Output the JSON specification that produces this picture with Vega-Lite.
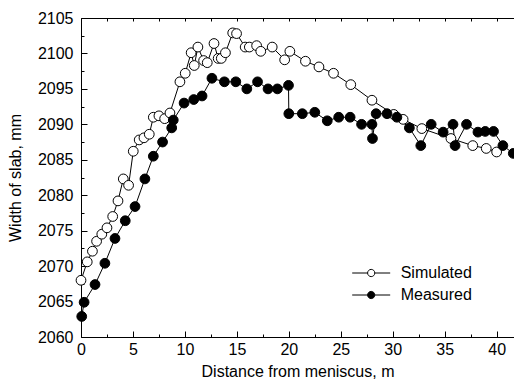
{
  "$schema": "https://vega.github.io/schema/vega-lite/v6.json",
  "autosize": "none",
  "width": 433,
  "height": 319,
  "padding": {"left": 81, "top": 18, "right": 0, "bottom": 44},
  "background": "white",
  "config": {
    "view": {"stroke": null},
    "font": "Liberation Sans",
    "axis": {
      "domainColor": "black", "domainWidth": 1, "tickColor": "black", "tickWidth": 1,
      "labelColor": "black", "titleColor": "black", "labelFont": "Liberation Sans", "titleFont": "Liberation Sans",
      "labelFontSize": 16, "titleFontSize": 16, "titleFontWeight": "normal", "grid": false
    }
  },
  "data": {
    "values": [
      {"s": "Simulated", "d": 0.0, "w": 2068.0},
      {"s": "Simulated", "d": 0.6, "w": 2070.6},
      {"s": "Simulated", "d": 1.1, "w": 2072.1},
      {"s": "Simulated", "d": 1.5, "w": 2073.5},
      {"s": "Simulated", "d": 2.0, "w": 2074.5},
      {"s": "Simulated", "d": 2.5, "w": 2075.4},
      {"s": "Simulated", "d": 3.05, "w": 2077.0},
      {"s": "Simulated", "d": 3.56, "w": 2079.2},
      {"s": "Simulated", "d": 4.07, "w": 2082.3},
      {"s": "Simulated", "d": 4.58, "w": 2081.4},
      {"s": "Simulated", "d": 5.03, "w": 2086.2},
      {"s": "Simulated", "d": 5.6, "w": 2087.8},
      {"s": "Simulated", "d": 6.06, "w": 2088.1},
      {"s": "Simulated", "d": 6.57, "w": 2088.6},
      {"s": "Simulated", "d": 6.96, "w": 2091.0},
      {"s": "Simulated", "d": 7.5, "w": 2091.2},
      {"s": "Simulated", "d": 8.05, "w": 2090.8},
      {"s": "Simulated", "d": 8.56, "w": 2091.6},
      {"s": "Simulated", "d": 9.52, "w": 2096.0},
      {"s": "Simulated", "d": 10.03, "w": 2097.2},
      {"s": "Simulated", "d": 10.6, "w": 2100.1},
      {"s": "Simulated", "d": 10.9, "w": 2098.3},
      {"s": "Simulated", "d": 11.25, "w": 2100.9},
      {"s": "Simulated", "d": 11.8, "w": 2099.0},
      {"s": "Simulated", "d": 12.15, "w": 2098.7},
      {"s": "Simulated", "d": 12.8, "w": 2101.4},
      {"s": "Simulated", "d": 13.2, "w": 2099.3},
      {"s": "Simulated", "d": 13.5, "w": 2099.3},
      {"s": "Simulated", "d": 13.9, "w": 2100.1},
      {"s": "Simulated", "d": 14.6, "w": 2102.9},
      {"s": "Simulated", "d": 14.97, "w": 2102.8},
      {"s": "Simulated", "d": 15.8, "w": 2100.9},
      {"s": "Simulated", "d": 16.2, "w": 2100.9},
      {"s": "Simulated", "d": 16.9, "w": 2101.1},
      {"s": "Simulated", "d": 17.3, "w": 2100.3},
      {"s": "Simulated", "d": 18.4, "w": 2100.9},
      {"s": "Simulated", "d": 19.6, "w": 2099.1},
      {"s": "Simulated", "d": 20.1, "w": 2100.3},
      {"s": "Simulated", "d": 21.6, "w": 2098.9},
      {"s": "Simulated", "d": 22.9, "w": 2098.1},
      {"s": "Simulated", "d": 24.3, "w": 2097.2},
      {"s": "Simulated", "d": 25.96, "w": 2095.6},
      {"s": "Simulated", "d": 28.0, "w": 2093.4},
      {"s": "Simulated", "d": 30.1, "w": 2091.4},
      {"s": "Simulated", "d": 31.0, "w": 2090.7},
      {"s": "Simulated", "d": 32.8, "w": 2089.4},
      {"s": "Simulated", "d": 35.6, "w": 2088.0},
      {"s": "Simulated", "d": 37.7, "w": 2087.0},
      {"s": "Simulated", "d": 39.0, "w": 2086.6},
      {"s": "Simulated", "d": 40.0, "w": 2086.1},
      {"s": "Measured", "d": 0.07, "w": 2062.9},
      {"s": "Measured", "d": 0.3, "w": 2064.9},
      {"s": "Measured", "d": 1.35, "w": 2067.4},
      {"s": "Measured", "d": 2.3, "w": 2070.4},
      {"s": "Measured", "d": 3.27, "w": 2073.9},
      {"s": "Measured", "d": 4.26, "w": 2076.4},
      {"s": "Measured", "d": 5.2, "w": 2078.4},
      {"s": "Measured", "d": 6.15, "w": 2082.3},
      {"s": "Measured", "d": 6.96, "w": 2085.5},
      {"s": "Measured", "d": 7.85, "w": 2087.5},
      {"s": "Measured", "d": 8.73, "w": 2089.5},
      {"s": "Measured", "d": 8.88, "w": 2090.6},
      {"s": "Measured", "d": 9.92, "w": 2093.0},
      {"s": "Measured", "d": 10.85, "w": 2093.5},
      {"s": "Measured", "d": 11.65, "w": 2094.0},
      {"s": "Measured", "d": 12.6, "w": 2096.5},
      {"s": "Measured", "d": 13.8, "w": 2096.0},
      {"s": "Measured", "d": 14.9, "w": 2096.0},
      {"s": "Measured", "d": 15.96, "w": 2095.0},
      {"s": "Measured", "d": 16.99, "w": 2096.0},
      {"s": "Measured", "d": 18.0, "w": 2095.0},
      {"s": "Measured", "d": 18.9, "w": 2095.0},
      {"s": "Measured", "d": 19.97, "w": 2095.5},
      {"s": "Measured", "d": 20.0, "w": 2091.5},
      {"s": "Measured", "d": 21.3, "w": 2091.5},
      {"s": "Measured", "d": 22.5, "w": 2091.7},
      {"s": "Measured", "d": 23.7, "w": 2090.5},
      {"s": "Measured", "d": 24.8, "w": 2091.0},
      {"s": "Measured", "d": 25.9, "w": 2091.0},
      {"s": "Measured", "d": 27.0, "w": 2090.0},
      {"s": "Measured", "d": 28.0, "w": 2090.0},
      {"s": "Measured", "d": 28.05, "w": 2088.0},
      {"s": "Measured", "d": 28.4, "w": 2091.5},
      {"s": "Measured", "d": 29.45, "w": 2091.5},
      {"s": "Measured", "d": 30.4, "w": 2091.0},
      {"s": "Measured", "d": 31.6, "w": 2089.5},
      {"s": "Measured", "d": 32.7, "w": 2087.0},
      {"s": "Measured", "d": 33.7, "w": 2090.0},
      {"s": "Measured", "d": 34.85, "w": 2088.9},
      {"s": "Measured", "d": 35.8, "w": 2090.0},
      {"s": "Measured", "d": 36.0, "w": 2087.0},
      {"s": "Measured", "d": 37.1, "w": 2090.0},
      {"s": "Measured", "d": 38.2, "w": 2088.9},
      {"s": "Measured", "d": 38.9, "w": 2089.0},
      {"s": "Measured", "d": 39.7, "w": 2089.0},
      {"s": "Measured", "d": 40.6, "w": 2087.0},
      {"s": "Measured", "d": 41.6, "w": 2085.9}
    ]
  },
  "layer": [
    {
      "mark": {"type": "line", "stroke": "black", "strokeWidth": 1},
      "encoding": {
        "x": {"field": "d", "type": "quantitative", "scale": {"domain": [0, 41.67], "nice": false, "zero": false},
          "axis": {"orient": "bottom", "title": "Distance from meniscus, m", "values": [0,2.5,5,7.5,10,12.5,15,17.5,20,22.5,25,27.5,30,32.5,35,37.5,40],
            "labelExpr": "datum.value % 5 === 0 ? datum.label : ''",
            "tickSize": {"condition": {"test": "datum.value % 5 === 0", "value": -6}, "value": -3},
            "labelPadding": 10, "titlePadding": 6, "labelFlush": false}},
        "y": {"field": "w", "type": "quantitative", "scale": {"domain": [2060, 2105], "nice": false, "zero": false},
          "axis": {"orient": "left", "title": "Width of slab, mm", "values": [2060,2062.5,2065,2067.5,2070,2072.5,2075,2077.5,2080,2082.5,2085,2087.5,2090,2092.5,2095,2097.5,2100,2102.5,2105],
            "labelExpr": "datum.value % 5 === 0 ? datum.label : ''",
            "tickSize": {"condition": {"test": "datum.value % 5 === 0", "value": -6}, "value": -3},
            "labelPadding": 14, "titlePadding": 14, "format": "d"}},
        "detail": {"field": "s"}
      }
    },
    {
      "mark": {"type": "point", "shape": "circle", "filled": true, "stroke": "black", "strokeWidth": 1, "size": 95, "opacity": 1},
      "encoding": {
        "x": {"field": "d", "type": "quantitative",
          "axis": {"orient": "top", "title": null, "labels": false, "values": [0,2.5,5,7.5,10,12.5,15,17.5,20,22.5,25,27.5,30,32.5,35,37.5,40],
            "tickSize": -3}},
        "y": {"field": "w", "type": "quantitative", "axis": null},
        "fill": {"field": "s", "type": "nominal", "scale": {"domain": ["Simulated", "Measured"], "range": ["white", "black"]},
          "legend": {"title": null, "orient": "none", "legendX": 270.7, "legendY": 244,
            "symbolType": "M-1,0L-0.19,0M1,0L0.19,0M0.19,0A0.19,0.19,0,1,1,-0.19,0A0.19,0.19,0,1,1,0.19,0Z",
            "symbolSize": 1444, "symbolStrokeColor": "black", "symbolStrokeWidth": 1, "clipHeight": 22, "rowPadding": 0,
            "labelFontSize": 16, "labelFont": "Liberation Sans", "labelColor": "black", "labelOffset": 10, "padding": 0}}
      }
    }
  ],
  "resolve": {"axis": {"x": "independent", "y": "independent"}}
}
